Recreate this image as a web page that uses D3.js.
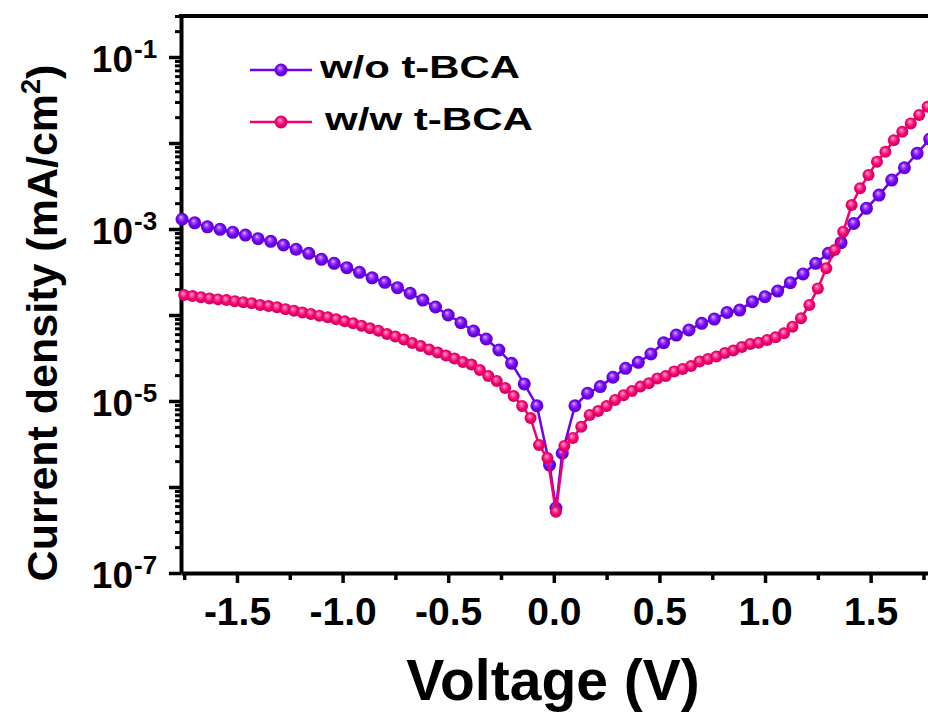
<!DOCTYPE html>
<html>
<head>
<meta charset="utf-8">
<script src="https://cdn.jsdelivr.net/npm/d3@7"></script>
<style>
  body { margin: 0; background: #fff; }
  svg { display: block; }
  text { font-family: "Liberation Sans", Arial, sans-serif; font-weight: bold; }
</style>
</head>
<body>
<div id="chart"></div>
<script>
// Data (V in volts, J in mA/cm2)
const voltageNoBCA = [-1.76,-1.70,-1.64,-1.58,-1.52,-1.46,-1.40,-1.34,-1.28,-1.22,-1.16,-1.10,-1.04,-0.98,-0.92,-0.86,
  -0.80,-0.74,-0.68,-0.62,-0.56,-0.50,-0.44,-0.38,-0.32,-0.26,-0.20,-0.14,-0.08,-0.02,0.01,0.04,0.10,0.16,0.22,0.28,
  0.34,0.40,0.46,0.52,0.58,0.64,0.70,0.76,0.82,0.88,0.94,1.00,1.06,1.12,1.18,1.24,1.30,1.36,1.42,1.48,1.54,1.60,1.66,1.72,1.78];
const currentNoBCA = [1.30e-3,1.18e-3,1.06e-3,9.93e-4,9.16e-4,8.51e-4,7.71e-4,7.19e-4,6.52e-4,5.81e-4,5.21e-4,4.44e-4,
  3.99e-4,3.55e-4,3.14e-4,2.71e-4,2.40e-4,2.08e-4,1.79e-4,1.49e-4,1.24e-4,1.00e-4,8.13e-5,6.52e-5,5.26e-5,3.92e-5,
  2.74e-5,1.58e-5,8.81e-6,1.80e-6,5.7e-7,2.47e-6,8.81e-6,1.23e-5,1.47e-5,1.89e-5,2.40e-5,2.82e-5,3.52e-5,4.76e-5,
  5.85e-5,6.70e-5,8.00e-5,8.98e-5,1.07e-4,1.14e-4,1.43e-4,1.63e-4,1.90e-4,2.38e-4,3.00e-4,3.99e-4,5.21e-4,6.93e-4,
  1.16e-3,1.74e-3,2.48e-3,3.71e-3,5.16e-3,7.59e-3,1.11e-2];

const voltageBCA = [-1.75,-1.71,-1.67,-1.63,-1.59,-1.55,-1.51,-1.47,-1.43,-1.39,-1.35,-1.31,-1.27,-1.23,-1.19,-1.15,
  -1.11,-1.07,-1.03,-0.99,-0.95,-0.91,-0.87,-0.83,-0.79,-0.75,-0.71,-0.67,-0.63,-0.59,-0.55,-0.51,-0.47,-0.43,-0.39,
  -0.35,-0.31,-0.27,-0.23,-0.19,-0.15,-0.11,-0.07,-0.03,0.01,0.05,0.09,0.13,0.17,0.21,0.25,0.29,0.33,0.37,0.41,0.45,
  0.49,0.53,0.57,0.61,0.65,0.69,0.73,0.77,0.81,0.85,0.89,0.93,0.97,1.01,1.05,1.09,1.13,1.17,1.21,1.25,1.29,1.33,1.37,
  1.41,1.45,1.49,1.53,1.57,1.61,1.65,1.69,1.73,1.77];
const currentBCA = [1.71e-4,1.66e-4,1.61e-4,1.56e-4,1.52e-4,1.49e-4,1.45e-4,1.41e-4,1.37e-4,1.31e-4,1.27e-4,1.23e-4,
  1.17e-4,1.12e-4,1.07e-4,1.03e-4,9.82e-5,9.40e-5,8.91e-5,8.45e-5,8.00e-5,7.51e-5,7.00e-5,6.56e-5,6.01e-5,5.62e-5,
  5.19e-5,4.72e-5,4.36e-5,3.97e-5,3.66e-5,3.38e-5,3.12e-5,2.84e-5,2.65e-5,2.29e-5,1.95e-5,1.71e-5,1.42e-5,1.14e-5,
  8.75e-6,6.34e-6,3.08e-6,2.17e-6,5.16e-7,3.00e-6,3.72e-6,5.02e-6,6.87e-6,7.65e-6,8.75e-6,1.03e-5,1.17e-5,1.31e-5,
  1.47e-5,1.61e-5,1.83e-5,1.95e-5,2.20e-5,2.36e-5,2.55e-5,2.88e-5,3.08e-5,3.29e-5,3.61e-5,3.86e-5,4.25e-5,4.60e-5,
  4.76e-5,5.12e-5,5.51e-5,6.12e-5,7.31e-5,9.16e-5,1.31e-4,2.04e-4,3.49e-4,5.70e-4,9.31e-4,1.90e-3,2.97e-3,4.25e-3,
  6.07e-3,7.92e-3,1.08e-2,1.35e-2,1.69e-2,2.12e-2,2.64e-2];

const seriesNames = ["w/o t-BCA", "w/w t-BCA"];
const xTicks = [-1.5, -1.0, -0.5, 0.0, 0.5, 1.0, 1.5];
const xMinorTicks = [-1.75, -1.25, -0.75, -0.25, 0.25, 0.75, 1.25, 1.75];
const yDecades = [1e-7, 1e-6, 1e-5, 1e-4, 1e-3, 1e-2, 1e-1];
const yLabelExps = [-7, -5, -3, -1];

const width = 928, height = 715;
const plotLeft = 181, plotRight = 934, plotTop = 16, plotBottom = 573;

const svg = d3.select("#chart").append("svg")
  .attr("width", width)
  .attr("height", height);

const x = d3.scaleLinear().domain([-1.765, 1.8]).range([plotLeft, plotRight]);
const y = d3.scaleLog().domain([1e-7, 0.3]).range([plotBottom, plotTop]);

// gradients for the shaded ball markers
const defs = svg.append("defs");
function ball(id, stops) {
  const g = defs.append("radialGradient").attr("id", id)
    .attr("cx", "50%").attr("cy", "50%").attr("r", "55%")
    .attr("fx", "40%").attr("fy", "32%");
  stops.forEach(s => g.append("stop").attr("offset", s[0]).attr("stop-color", s[1]));
}
ball("ballPurple", [["0%", "#e2b8ff"], ["28%", "#9b45ff"], ["60%", "#7000ee"], ["100%", "#5800c4"]]);
ball("ballPink", [["0%", "#ffb3d6"], ["28%", "#ff4d9c"], ["60%", "#f2006e"], ["100%", "#c8005a"]]);

const series = [
  { name: seriesNames[0], v: voltageNoBCA, j: currentNoBCA, color: "#7000ee", fill: "url(#ballPurple)", r: 6.5 },
  { name: seriesNames[1], v: voltageBCA, j: currentBCA, color: "#f2006e", fill: "url(#ballPink)", r: 6 }
];

// axes
const xAxis = svg.append("g")
  .attr("transform", `translate(0,${plotBottom})`)
  .call(d3.axisBottom(x).tickValues(xTicks).tickSize(10).tickSizeOuter(0).tickPadding(14)
    .tickFormat(d => d.toFixed(1)));
xAxis.select(".domain").attr("stroke-width", 4);
xAxis.selectAll(".tick line").attr("stroke-width", 3.5);
xAxis.selectAll("text").attr("font-size", 39).attr("fill", "#000");
xAxis.attr("font-family", null).attr("font-size", null);

svg.append("g")
  .attr("transform", `translate(0,${plotBottom})`)
  .call(d3.axisBottom(x).tickValues(xMinorTicks).tickSize(7).tickFormat(""))
  .call(g => g.select(".domain").remove())
  .selectAll(".tick line").attr("stroke-width", 3.5);

const yAxis = svg.append("g")
  .attr("transform", `translate(${plotLeft},0)`)
  .call(d3.axisLeft(y).tickValues(yDecades).tickSize(12).tickSizeOuter(0).tickFormat(""));
yAxis.select(".domain").attr("stroke-width", 4);
yAxis.selectAll(".tick line").attr("stroke-width", 3.5);

const yMinor = y.ticks().filter(d => !yDecades.some(p => Math.abs(d / p - 1) < 1e-6));
svg.append("g")
  .attr("transform", `translate(${plotLeft},0)`)
  .call(d3.axisLeft(y).tickValues(yMinor).tickSize(6).tickFormat(""))
  .call(g => g.select(".domain").remove())
  .selectAll(".tick line").attr("stroke-width", 3);

// top frame line
svg.append("line")
  .attr("x1", plotLeft - 2).attr("x2", width)
  .attr("y1", plotTop).attr("y2", plotTop)
  .attr("stroke", "#000").attr("stroke-width", 4);

// y tick labels 10^n
yLabelExps.forEach(e => {
  const yy = y(Math.pow(10, e));
  svg.append("text").attr("x", 133).attr("y", yy + 15)
    .attr("text-anchor", "end").attr("font-size", 37).text("10");
  svg.append("text").attr("x", 134).attr("y", yy + 1)
    .attr("font-size", 26).text(String(e));
});

// series
const line = d3.line().x(d => d[0]).y(d => d[1]);
series.forEach(s => {
  const pts = s.v.map((v, i) => [x(v), y(s.j[i])]);
  svg.append("path")
    .datum(pts)
    .attr("fill", "none")
    .attr("stroke", s.color)
    .attr("stroke-width", 2.5)
    .attr("d", line);
  svg.append("g").selectAll("circle")
    .data(pts)
    .join("circle")
    .attr("cx", d => d[0])
    .attr("cy", d => d[1])
    .attr("r", s.r)
    .attr("fill", s.fill);
});

// legend
const legendY = [70, 122];
const legendTextY = [78, 130];
const legendTextX = [320, 325];
const legendTextLen = [200, 208];
series.forEach((s, i) => {
  svg.append("line")
    .attr("x1", 250).attr("x2", 312)
    .attr("y1", legendY[i]).attr("y2", legendY[i])
    .attr("stroke", s.color).attr("stroke-width", 2.5);
  svg.append("circle")
    .attr("cx", 281).attr("cy", legendY[i]).attr("r", 6.5)
    .attr("fill", s.fill);
  svg.append("text")
    .attr("x", legendTextX[i]).attr("y", legendTextY[i])
    .attr("font-size", 32)
    .attr("textLength", legendTextLen[i])
    .attr("lengthAdjust", "spacingAndGlyphs")
    .text(s.name);
});

// axis titles
svg.append("text")
  .attr("x", 553).attr("y", 700)
  .attr("text-anchor", "middle")
  .attr("font-size", 57)
  .text("Voltage (V)");

const yTitle = svg.append("text")
  .attr("transform", "translate(57,323) rotate(-90)")
  .attr("text-anchor", "middle")
  .attr("font-size", 43);
yTitle.append("tspan").text("Current density (mA/cm");
yTitle.append("tspan").attr("font-size", 27).attr("dy", -17).text("2");
yTitle.append("tspan").attr("dy", 17).text(")");
</script>
</body>
</html>
